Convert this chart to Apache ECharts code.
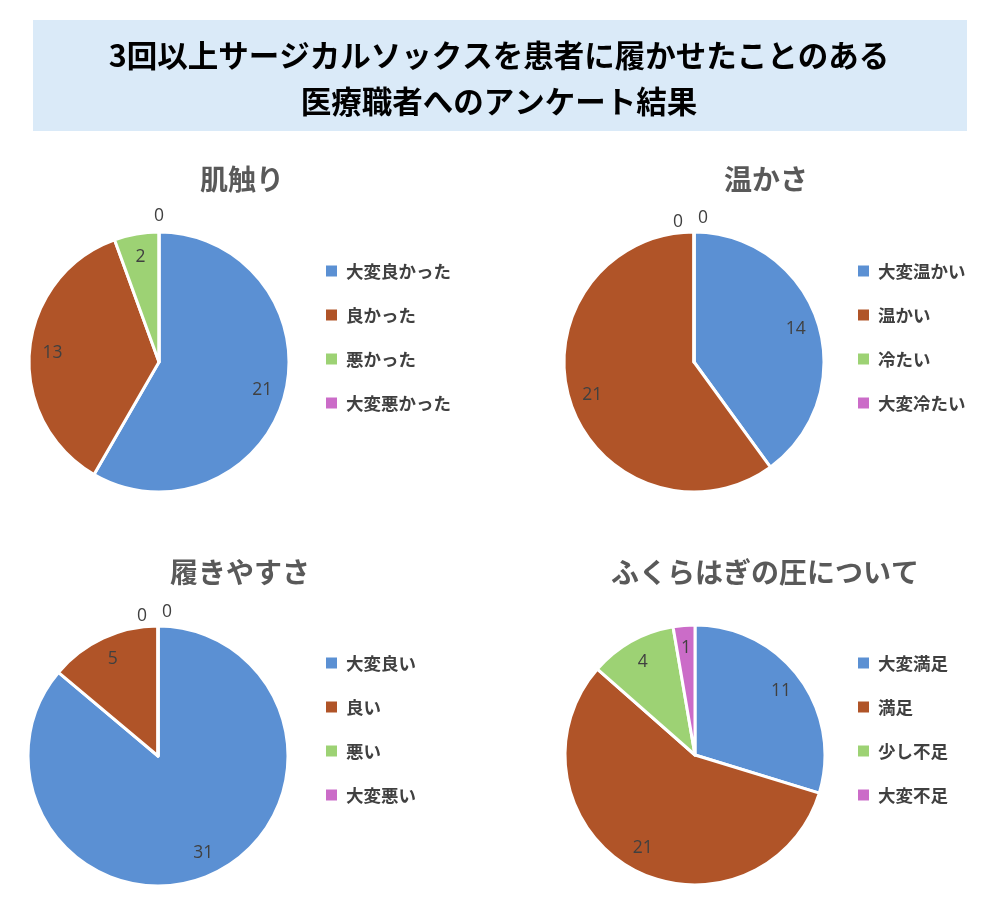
<!DOCTYPE html>
<html>
<head>
<meta charset="utf-8">
<script src="https://cdn.jsdelivr.net/npm/echarts@6/dist/echarts.min.js"></script>
<style>
html,body{margin:0;padding:0;background:#fff;}
#main{width:1000px;height:905px;}
</style>
</head>
<body>
<div id="main"></div>
<script>
// ---- data ----
const mainTitle = '3回以上サージカルソックスを患者に履かせたことのある\n医療職者へのアンケート結果';
const chartTitles = ['肌触り', '温かさ', '履きやすさ', 'ふくらはぎの圧について'];
const cats1 = ['大変良かった', '良かった', '悪かった', '大変悪かった'];
const vals1 = [21, 13, 2, 0];
const cats2 = ['大変温かい', '温かい', '冷たい', '大変冷たい'];
const vals2 = [14, 21, 0, 0];
const cats3 = ['大変良い', '良い', '悪い', '大変悪い'];
const vals3 = [31, 5, 0, 0];
const cats4 = ['大変満足', '満足', '少し不足', '大変不足'];
const vals4 = [11, 21, 4, 1];

// ---- layout / style ----
const colors = ['#5B90D3', '#B05428', '#9DD274', '#CB6CC8'];
const CJK = '"Noto Sans CJK JP", sans-serif';
const NUM = '"Open Sans", "Liberation Sans", sans-serif';
const centers = [[159, 362], [694, 362], [158, 756], [695, 755]];
const R = 130;
const legendPos = [[324, 262], [856, 262], [324, 654], [856, 654]];
const subPos = [[237, 178], [761, 178], [235, 571], [760, 571]];
const zeroOffsetsOne = [[0, 0]];
const zeroOffsetsTwo = [[-16, 6], [9, 2]];

const chartCats = [cats1, cats2, cats3, cats4];
const chartVals = [vals1, vals2, vals3, vals4];

const series = [];
const legends = [];
const titles = [{
  text: mainTitle,
  left: 494, top: 27, textAlign: 'center',
  textStyle: { fontFamily: CJK, fontSize: 30.5, fontWeight: 'bold', color: '#000', lineHeight: 46 }
}];

chartCats.forEach((cats, i) => {
  const vals = chartVals[i];
  const c = centers[i];
  titles.push({
    text: chartTitles[i], left: subPos[i][0], top: subPos[i][1] - 18, textAlign: 'center',
    textStyle: { fontFamily: CJK, fontSize: 28, fontWeight: 'bold', color: '#595959' }
  });
  legends.push({
    data: cats, orient: 'vertical', left: legendPos[i][0], top: legendPos[i][1],
    padding: 0,
    icon: 'rect', itemWidth: 13, itemHeight: 13, itemGap: 26,
    selectedMode: false,
    textStyle: { fontFamily: CJK, fontSize: 17.5, fontWeight: 'bold', color: '#404040', lineHeight: 18, padding: [0, 0, 0, 3] }
  });
  // main pie
  series.push({
    type: 'pie', center: c, radius: [0, R], startAngle: 90, clockwise: true,
    silent: true, animation: false,
    data: cats.map((n, k) => ({ name: n, value: vals[k], itemStyle: { color: colors[k] } })),
    itemStyle: { borderColor: '#fff', borderWidth: 3 },
    label: { show: false }, labelLine: { show: false }
  });
  // value labels (inside, placed at ~80% radius)
  series.push({
    type: 'pie', center: c, radius: [78, R], startAngle: 90, clockwise: true,
    silent: true, animation: false,
    data: vals.map(v => ({ value: v, label: { show: v > 0 } })),
    itemStyle: { color: 'rgba(0,0,0,0)', borderWidth: 0 },
    label: { position: 'inside', formatter: '{c}', fontFamily: NUM, fontSize: 17.5, color: '#404040' },
    labelLine: { show: false }
  });
  // zero labels just outside the top
  const nZero = vals.filter(v => v === 0).length;
  const offs = nZero > 1 ? zeroOffsetsTwo : zeroOffsetsOne;
  let zi = 0;
  series.push({
    type: 'pie', center: c, radius: [R, R + 26], startAngle: 90, clockwise: true,
    silent: true, animation: false,
    data: vals.map(v => {
      const item = { value: v, label: { show: v === 0 } };
      if (v === 0) { item.label.offset = offs[Math.min(zi, offs.length - 1)]; zi++; }
      return item;
    }),
    itemStyle: { color: 'rgba(0,0,0,0)', borderWidth: 0 },
    label: { position: 'inside', formatter: '{c}', fontFamily: NUM, fontSize: 17.5, color: '#404040' },
    labelLine: { show: false }
  });
});

const chart = echarts.init(document.getElementById('main'));
chart.setOption({
  animation: false,
  backgroundColor: '#fff',
  graphic: [{
    type: 'rect', left: 33, top: 20, z: -10,
    shape: { width: 934, height: 111 },
    style: { fill: '#DAEAF8' }
  }],
  title: titles,
  legend: legends,
  series: series
});
</script>
</body>
</html>
